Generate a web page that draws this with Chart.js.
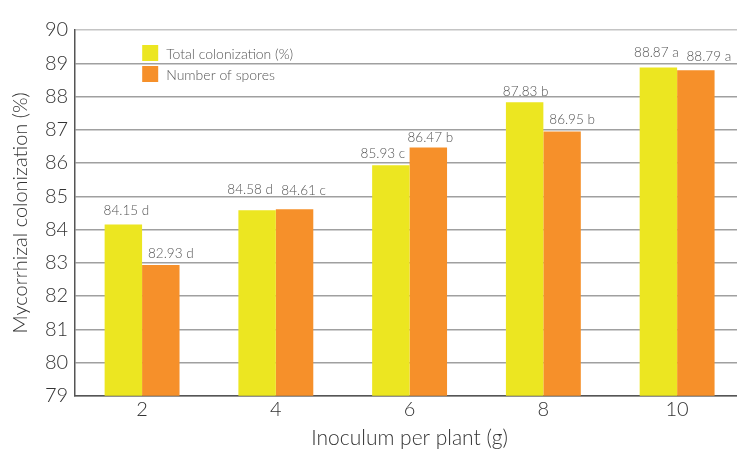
<!DOCTYPE html>
<html>
<head>
<meta charset="utf-8">
<script src="https://cdn.jsdelivr.net/npm/chart.js@4/dist/chart.umd.min.js"></script>
<style>
  html, body { margin: 0; padding: 0; background: #fff; overflow: hidden; }
  #wrap { width: 744px; height: 451px; }
</style>
</head>
<body>
<div id="wrap"><canvas id="c" width="744" height="451"></canvas></div>
<script>
// Inoculum doses (g per plant)
const categories = ['2', '4', '6', '8', '10'];
// Series values
const totalColonization = [84.15, 84.58, 85.93, 87.83, 88.87];
const numberOfSpores   = [82.93, 84.61, 86.47, 86.95, 88.79];
// Significance letters shown beside each value
const totalLetters  = ['d', 'd', 'c', 'b', 'a'];
const sporesLetters = ['d', 'c', 'b', 'b', 'a'];
const seriesNames = ['Total colonization (%)', 'Number of spores'];

const FONT = "Lato, 'Open Sans', sans-serif";
const YELLOW = '#ECE621';
const ORANGE = '#F6902A';

// Value + letter above each bar; small per-label nudges keep
// neighbouring labels from colliding: [dx, gap above bar top]
const labelNudge = [
  [[3, 10], [-7, 16], [-8, 7], [1, 6], [-2, 11]],
  [[10, 7], [9, 14], [2, 5], [10, 7], [13, 9]]
];
const valueLabels = {
  id: 'valueLabels',
  afterDatasetsDraw(chart) {
    const ctx = chart.ctx;
    const letters = [totalLetters, sporesLetters];
    ctx.save();
    ctx.font = "300 13.5px " + FONT;
    ctx.fillStyle = '#555';
    ctx.textAlign = 'center';
    ctx.textBaseline = 'alphabetic';
    chart.data.datasets.forEach((ds, di) => {
      chart.getDatasetMeta(di).data.forEach((bar, i) => {
        const [dx, gap] = labelNudge[di][i];
        ctx.fillText(ds.data[i].toFixed(2) + ' ' + letters[di][i], bar.x + dx, bar.y - gap);
      });
    });
    ctx.restore();
  }
};

// Legend drawn inside the plot area, top-left
const innerLegend = {
  id: 'innerLegend',
  afterDraw(chart) {
    const ctx = chart.ctx;
    const a = chart.chartArea;
    ctx.save();
    ctx.font = "300 14px " + FONT;
    ctx.textBaseline = 'middle';
    ctx.textAlign = 'left';
    chart.data.datasets.forEach((ds, i) => {
      const x = a.left + 67;
      const y = a.top + 15 + i * 21;
      ctx.fillStyle = ds.backgroundColor;
      ctx.fillRect(x, y, 16, 16);
      ctx.fillStyle = '#555';
      ctx.fillText(ds.label, x + 24, y + 9);
    });
    ctx.restore();
  }
};

new Chart(document.getElementById('c'), {
  type: 'bar',
  data: {
    labels: categories,
    datasets: [
      { label: seriesNames[0], data: totalColonization, backgroundColor: YELLOW },
      { label: seriesNames[1], data: numberOfSpores, backgroundColor: ORANGE }
    ]
  },
  options: {
    responsive: false,
    animation: false,
    layout: { padding: { top: 30, right: 0, left: 9, bottom: 0 } },
    datasets: { bar: { categoryPercentage: 0.56, barPercentage: 1.0 } },
    plugins: { legend: { display: false }, tooltip: { enabled: false } },
    scales: {
      x: {
        grid: { display: false, drawTicks: false },
        border: { color: '#555', width: 1.5 },
        ticks: { color: '#333', font: { family: FONT, size: 20, weight: 300 }, padding: 2 },
        title: { display: true, text: 'Inoculum per plant (g)', color: '#333',
                 font: { family: FONT, size: 21, weight: 300 }, padding: { top: 2, bottom: 0 } }
      },
      y: {
        min: 79, max: 90,
        grid: {
          drawTicks: false,
          lineWidth: 1.5,
          color: (c) => c.tick && c.tick.value === 90 ? '#c4c4c4' : '#a0a0a0'
        },
        border: { color: '#555', width: 1.5 },
        ticks: { stepSize: 1, color: '#333', font: { family: FONT, size: 20, weight: 300 }, padding: 7 },
        title: { display: true, text: 'Mycorrhizal colonization (%)', color: '#333',
                 font: { family: FONT, size: 20, weight: 300 }, padding: { top: 0, bottom: 5 } }
      }
    }
  },
  plugins: [valueLabels, innerLegend]
});
</script>
</body>
</html>
